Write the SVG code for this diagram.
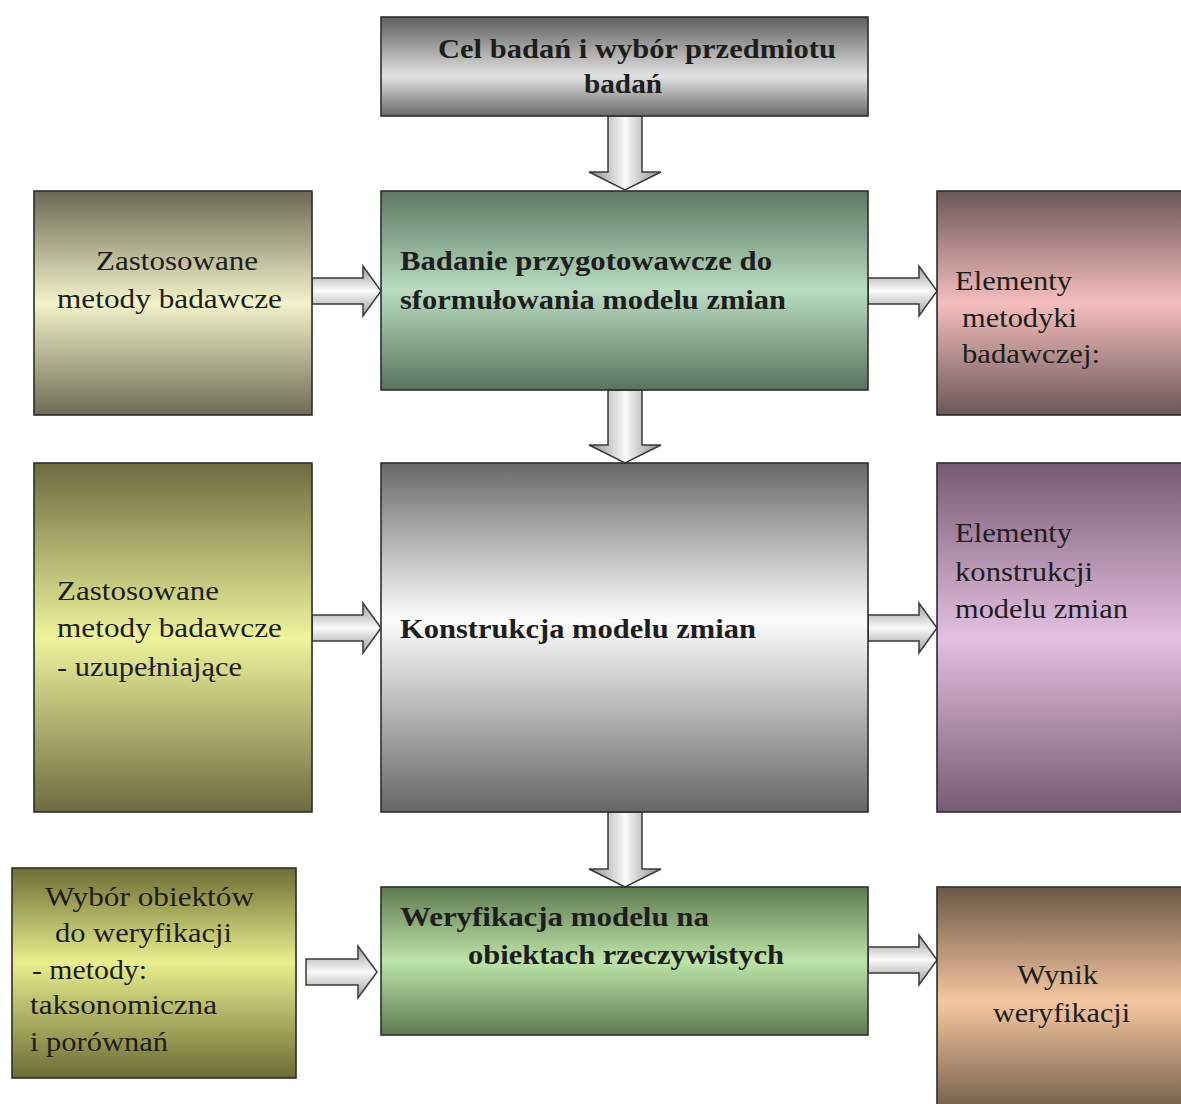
<svg xmlns="http://www.w3.org/2000/svg" width="1181" height="1104" viewBox="0 0 1181 1104">
<defs>
<linearGradient id="gTop" x1="0" y1="0" x2="0" y2="1"><stop offset="0" stop-color="#5e5e5e"/><stop offset="0.6" stop-color="#e2e2e2"/><stop offset="1" stop-color="#6a6a6a"/></linearGradient>
<linearGradient id="gBad" x1="0" y1="0" x2="0" y2="1"><stop offset="0" stop-color="#5d7862"/><stop offset="0.5" stop-color="#b9dcc2"/><stop offset="1" stop-color="#5a735e"/></linearGradient>
<linearGradient id="gL1" x1="0" y1="0" x2="0" y2="1"><stop offset="0" stop-color="#6a6a55"/><stop offset="0.5" stop-color="#f2f3c9"/><stop offset="1" stop-color="#6c6c56"/></linearGradient>
<linearGradient id="gR1" x1="0" y1="0" x2="0" y2="1"><stop offset="0" stop-color="#6a5758"/><stop offset="0.5" stop-color="#f6bdbd"/><stop offset="1" stop-color="#6a5758"/></linearGradient>
<linearGradient id="gKon" x1="0" y1="0" x2="0" y2="1"><stop offset="0" stop-color="#686868"/><stop offset="0.45" stop-color="#fdfdfd"/><stop offset="1" stop-color="#666666"/></linearGradient>
<linearGradient id="gL2" x1="0" y1="0" x2="0" y2="1"><stop offset="0" stop-color="#6c6c40"/><stop offset="0.5" stop-color="#eef39c"/><stop offset="1" stop-color="#6c6c40"/></linearGradient>
<linearGradient id="gR2" x1="0" y1="0" x2="0" y2="1"><stop offset="0" stop-color="#775a74"/><stop offset="0.5" stop-color="#e4bfe0"/><stop offset="1" stop-color="#775a74"/></linearGradient>
<linearGradient id="gL3" x1="0" y1="0" x2="0" y2="1"><stop offset="0" stop-color="#6e6e34"/><stop offset="0.45" stop-color="#e8ee8e"/><stop offset="1" stop-color="#6c6c34"/></linearGradient>
<linearGradient id="gWer" x1="0" y1="0" x2="0" y2="1"><stop offset="0" stop-color="#5e7a50"/><stop offset="0.5" stop-color="#bde4a8"/><stop offset="1" stop-color="#5e7a50"/></linearGradient>
<linearGradient id="gR3" x1="0" y1="0" x2="0" y2="1"><stop offset="0" stop-color="#6c5846"/><stop offset="0.5" stop-color="#f5c7a0"/><stop offset="1" stop-color="#6c5846"/></linearGradient>
<linearGradient id="gArrV" x1="0" y1="0" x2="1" y2="0"><stop offset="0" stop-color="#8a8a8a"/><stop offset="0.5" stop-color="#fafafa"/><stop offset="1" stop-color="#8a8a8a"/></linearGradient>
<linearGradient id="gArrH" x1="0" y1="0" x2="0" y2="1"><stop offset="0" stop-color="#9a9a9a"/><stop offset="0.5" stop-color="#fafafa"/><stop offset="1" stop-color="#9a9a9a"/></linearGradient>
</defs>
<style>
.box{stroke:#2e2e2e;stroke-width:1.6}
.t{font-family:"Liberation Serif","Times New Roman",serif;font-size:28px;fill:#1e1e1e}
.b{font-weight:bold}
.av{fill:url(#gArrV);stroke:#3a3a3a;stroke-width:1.5;stroke-linejoin:miter}
.ah{fill:url(#gArrH);stroke:#3a3a3a;stroke-width:1.5;stroke-linejoin:miter}
</style>
<rect width="1181" height="1104" fill="#ffffff"/>
<g id="connectors">
<path class="av" d="M608,116 L642,116 L642,172 L661,172 L625,190 L589,172 L608,172 Z"/>
<path class="av" d="M608,390 L642,390 L642,445 L661,445 L625,463 L589,445 L608,445 Z"/>
<path class="av" d="M608,812 L642,812 L642,869 L661,869 L625,887 L589,869 L608,869 Z"/>
<path class="ah" d="M312,278 L363,278 L363,266 L381,291 L363,316 L363,304 L312,304 Z"/>
<path class="ah" d="M868,278 L919,278 L919,266 L937,291 L919,316 L919,304 L868,304 Z"/>
<path class="ah" d="M312,615 L363,615 L363,603 L381,628 L363,653 L363,641 L312,641 Z"/>
<path class="ah" d="M868,615 L919,615 L919,603 L937,628 L919,653 L919,641 L868,641 Z"/>
<path class="ah" d="M306,959 L358,959 L358,946 L377,972 L358,998 L358,985 L306,985 Z"/>
<path class="ah" d="M868,947 L919,947 L919,935 L937,960 L919,985 L919,973 L868,973 Z"/>
</g>
<g id="n-cel">
<rect class="box" x="381" y="17" width="487" height="99" fill="url(#gTop)"/>
<text class="t b" x="438" y="58" textLength="398" lengthAdjust="spacingAndGlyphs">Cel badań i wybór przedmiotu</text>
<text class="t b" x="584" y="93" textLength="78" lengthAdjust="spacingAndGlyphs">badań</text>
</g>
<g id="n-badanie">
<rect class="box" x="381" y="191" width="487" height="199" fill="url(#gBad)"/>
<text class="t b" x="400" y="270" textLength="372" lengthAdjust="spacingAndGlyphs">Badanie przygotowawcze do</text>
<text class="t b" x="400" y="309" textLength="386" lengthAdjust="spacingAndGlyphs">sformułowania modelu zmian</text>
</g>
<g id="n-metody1">
<rect class="box" x="34" y="191" width="278" height="224" fill="url(#gL1)"/>
<text class="t" x="96" y="270" textLength="162" lengthAdjust="spacingAndGlyphs">Zastosowane</text>
<text class="t" x="57" y="308" textLength="225" lengthAdjust="spacingAndGlyphs">metody badawcze</text>
</g>
<g id="n-elementy1">
<rect class="box" x="937" y="191" width="250" height="224" fill="url(#gR1)"/>
<text class="t" x="955" y="290" textLength="117" lengthAdjust="spacingAndGlyphs">Elementy</text>
<text class="t" x="962" y="327" textLength="115" lengthAdjust="spacingAndGlyphs">metodyki</text>
<text class="t" x="962" y="363" textLength="138" lengthAdjust="spacingAndGlyphs">badawczej:</text>
</g>
<g id="n-konstrukcja">
<rect class="box" x="381" y="463" width="487" height="349" fill="url(#gKon)"/>
<text class="t b" x="400" y="638" textLength="356" lengthAdjust="spacingAndGlyphs">Konstrukcja modelu zmian</text>
</g>
<g id="n-metody2">
<rect class="box" x="34" y="463" width="278" height="349" fill="url(#gL2)"/>
<text class="t" x="57" y="600" textLength="162" lengthAdjust="spacingAndGlyphs">Zastosowane</text>
<text class="t" x="57" y="637" textLength="225" lengthAdjust="spacingAndGlyphs">metody badawcze</text>
<text class="t" x="57" y="676" textLength="185" lengthAdjust="spacingAndGlyphs">- uzupełniające</text>
</g>
<g id="n-elementy2">
<rect class="box" x="937" y="463" width="250" height="349" fill="url(#gR2)"/>
<text class="t" x="955" y="542" textLength="117" lengthAdjust="spacingAndGlyphs">Elementy</text>
<text class="t" x="955" y="581" textLength="138" lengthAdjust="spacingAndGlyphs">konstrukcji</text>
<text class="t" x="955" y="618" textLength="173" lengthAdjust="spacingAndGlyphs">modelu zmian</text>
</g>
<g id="n-weryfikacja">
<rect class="box" x="381" y="887" width="487" height="148" fill="url(#gWer)"/>
<text class="t b" x="400" y="926" textLength="309" lengthAdjust="spacingAndGlyphs">Weryfikacja modelu na</text>
<text class="t b" x="468" y="964" textLength="316" lengthAdjust="spacingAndGlyphs">obiektach rzeczywistych</text>
</g>
<g id="n-wybor">
<rect class="box" x="12" y="868" width="284" height="210" fill="url(#gL3)"/>
<text class="t" x="45" y="906" textLength="209" lengthAdjust="spacingAndGlyphs">Wybór obiektów</text>
<text class="t" x="55" y="942" textLength="177" lengthAdjust="spacingAndGlyphs">do weryfikacji</text>
<text class="t" x="32" y="979" textLength="115" lengthAdjust="spacingAndGlyphs">- metody:</text>
<text class="t" x="30" y="1014" textLength="187" lengthAdjust="spacingAndGlyphs">taksonomiczna</text>
<text class="t" x="30" y="1051" textLength="138" lengthAdjust="spacingAndGlyphs">i porównań</text>
</g>
<g id="n-wynik">
<rect class="box" x="937" y="887" width="250" height="230" fill="url(#gR3)"/>
<text class="t" x="1017" y="984" textLength="81" lengthAdjust="spacingAndGlyphs">Wynik</text>
<text class="t" x="993" y="1022" textLength="137" lengthAdjust="spacingAndGlyphs">weryfikacji</text>
</g>
</svg>
